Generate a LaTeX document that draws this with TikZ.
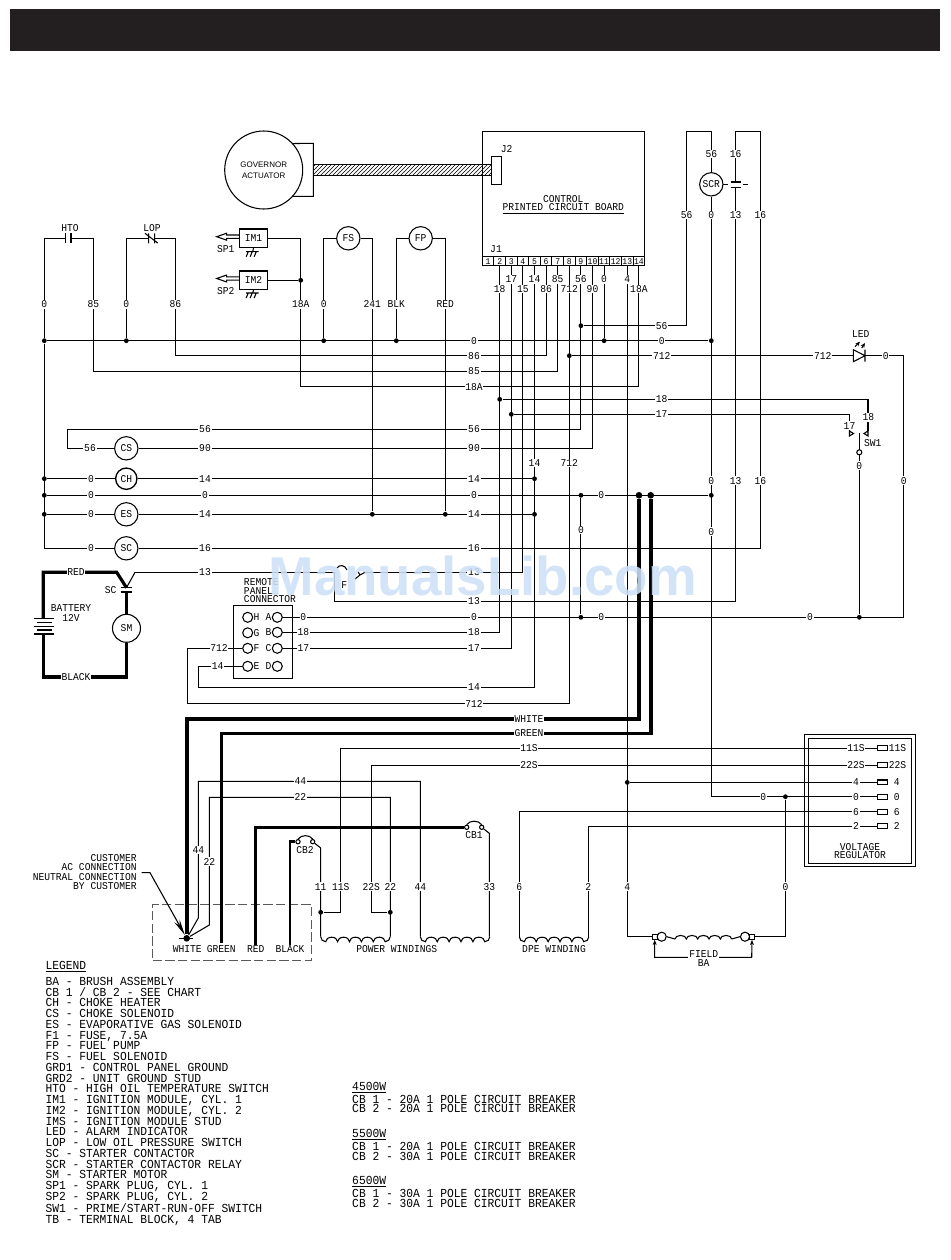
\documentclass[tikz,border=0pt]{standalone}
\usepackage{fontspec}
\setmonofont{Liberation Mono}[FakeStretch=0.92]
\setsansfont{Liberation Sans}
\usetikzlibrary{arrows.meta,patterns}
\newcommand{\wirefont}{\ttfamily\fontsize{7.85}{7.2}\selectfont}
\newcommand{\legendfont}{\ttfamily\fontsize{9.2}{8.07}\selectfont}
\definecolor{inkdark}{HTML}{231F20}
\definecolor{marklib}{HTML}{CDE0F7}
\tikzset{
  heavy/.style={line width=2.4pt},
  tag/.style={fill=white,inner sep=.6pt},
  dev/.style={circle,draw,fill=white,minimum size=17.5pt,inner sep=0pt},
  jn/.style={circle,fill,minimum size=3.6pt,inner sep=0pt},
  jnbig/.style={circle,fill,minimum size=5pt,inner sep=0pt},
  rpt/.style={circle,draw,minimum size=7.5pt,inner sep=0pt},
  cbpt/.style={circle,draw,minimum size=3.2pt,inner sep=0pt},
  pinbox/.style={draw,minimum width=8.7pt,minimum height=6.75pt,inner sep=0pt,font=\ttfamily\fontsize{6.6}{6.6}\selectfont},
  imbox/.style={draw,minimum width=21.3pt,minimum height=14pt,inner sep=0pt},
  tmbox/.style={draw,minimum width=7.8pt,minimum height=3.6pt,inner sep=0pt},
  fqbox/.style={draw,minimum size=3.8pt,inner sep=0pt},
  coil/.pic={\draw (0,0) arc[start angle=180,end angle=90,radius=5] arc[start angle=180,end angle=360,x radius=5.95,y radius=4.5] arc[start angle=180,end angle=360,x radius=5.95,y radius=4.5] arc[start angle=180,end angle=360,x radius=5.95,y radius=4.5] arc[start angle=180,end angle=360,x radius=5.95,y radius=4.5] arc[start angle=180,end angle=360,x radius=5.95,y radius=4.5] arc[start angle=90,end angle=0,radius=5];},
  smallcoil/.pic={\draw (0,0) arc[start angle=180,end angle=360,x radius=5.67,y radius=3.6] arc[start angle=180,end angle=360,x radius=5.67,y radius=3.6] arc[start angle=180,end angle=360,x radius=5.67,y radius=3.6] arc[start angle=180,end angle=360,x radius=5.67,y radius=3.6] arc[start angle=180,end angle=360,x radius=5.67,y radius=3.6];},
  gndmark/.pic={\draw (-6.5,0) -- (6,0) (-4.5,0) -- (-6.5,5) (-.5,0) -- (-2.5,5) (3.5,0) -- (1.5,5);},
  plugmark/.pic={\draw (22.6,-1.7) -- (10,-1.7) -- (10,-3.5) -- (0,0) -- (10,3.5) -- (10,1.7) -- (22.6,1.7);}
}

\begin{document}
\begin{tikzpicture}[x=.75pt,y=-.75pt,line width=.8pt,>={Stealth[length=4pt,width=3pt]}]
\tikzstyle{every node}=[font=\wirefont]
\useasboundingbox (0,0) rectangle (950,1260);
\fill[inkdark] (10,9) rectangle (940,51);

% board and governor
\node[circle,draw,minimum size=58.5pt,inner sep=0pt,align=center,font=\sffamily\fontsize{6}{8}\selectfont] (gov) at (263.7,170) {GOVERNOR\\ACTUATOR};
\coordinate (kgova) at (313.3,143.3);
\coordinate (kgovb) at (313.3,196.3);
\draw (gov.42) -- (kgova) -- (kgovb) -- (gov.-42);
\node[draw,minimum width=121.8pt,minimum height=94pt,inner sep=0pt] (pcb) at (563.5,194) {};
\node[draw,pattern=north east lines,minimum width=134pt,minimum height=8.25pt,inner sep=0pt] (cable) at (402.5,169.8) {};
\node[draw,fill=white,minimum width=7.5pt,minimum height=21pt,inner sep=0pt] (j2box) at (496.7,170.3) {};
\node (j2) at (506.7,149.3) {J2};
\node (pcb1) at (563.3,199) {CONTROL};
\node (pcb2) at (563.3,208.7) {\underline{PRINTED CIRCUIT BOARD}};
\node (j1) at (496,249.3) {J1};
\node[pinbox] (p1) at (488.1,261.2) {1};
\node[pinbox] (p2) at (499.7,261.2) {2};
\node[pinbox] (p3) at (511.3,261.2) {3};
\node[pinbox] (p4) at (522.9,261.2) {4};
\node[pinbox] (p5) at (534.5,261.2) {5};
\node[pinbox] (p6) at (546.1,261.2) {6};
\node[pinbox] (p7) at (557.7,261.2) {7};
\node[pinbox] (p8) at (569.3,261.2) {8};
\node[pinbox] (p9) at (580.9,261.2) {9};
\node[pinbox] (p10) at (592.5,261.2) {10};
\node[pinbox] (p11) at (604.1,261.2) {11};
\node[pinbox] (p12) at (615.7,261.2) {12};
\node[pinbox] (p13) at (627.3,261.2) {13};
\node[pinbox] (p14) at (638.9,261.2) {14};

% top row devices
\coordinate (htoa) at (65.7,238.3);
\coordinate (htob) at (71,238.3);
\coordinate (lopa) at (148.7,238.3);
\coordinate (lopb) at (154.7,238.3);
\draw (65.7,233.3) -- (65.7,243.3) (71,233.3) -- (71,243.3);
\draw (148.7,233.3) -- (148.7,243.3) (154.7,233.3) -- (154.7,243.3) (145,233.3) -- (157.7,243);
\node (hto) at (70,228.3) {HTO};
\node (lop) at (152,228.3) {LOP};
\node[imbox] (im1) at (253.5,238.3) {IM1};
\node[imbox] (im2) at (253.5,280.3) {IM2};
\node (sp1) at (225.7,249) {SP1};
\node (sp2) at (225.7,290.7) {SP2};
\pic at (216.7,236.7) {plugmark};
\pic at (216.7,278.5) {plugmark};
\draw (im1.south) -- (252.7,251.7);
\draw (im2.south) -- (252.7,293);
\pic at (252.7,251.7) {gndmark};
\pic at (252.7,293) {gndmark};
\node[dev] (fs) at (348.3,238.3) {FS};
\node[dev] (fp) at (420.7,238.3) {FP};

% junctions
\node[jn] (j0a) at (44.3,340.7) {};
\node[jn] (j0b) at (126.3,340.7) {};
\node[jn] (j0c) at (323.7,340.7) {};
\node[jn] (j0d) at (396.3,340.7) {};
\node[jn] (j0h) at (604.1,340.7) {};
\node[jn] (j0scr) at (711.3,340.7) {};
\node[jn] (j18a) at (300.7,280.3) {};
\node[jn] (j56) at (580.9,325.7) {};
\node[jn] (j712) at (569.3,355.7) {};
\node[jn] (j18) at (499.7,399.3) {};
\node[jn] (j17) at (511.3,414.3) {};
\node[jn] (j0e) at (44.3,478.7) {};
\node[jn] (j0f) at (44.3,495.3) {};
\node[jn] (j0g) at (44.3,514.3) {};
\node[jn] (j14c) at (534.5,478.7) {};
\node[jn] (j14a) at (372.3,514.3) {};
\node[jn] (j14b) at (445.3,514.3) {};
\node[jn] (j14d) at (534.5,514.3) {};
\node[jn] (j0m) at (580.9,495.3) {};
\node[jnbig] (jw) at (639,495.3) {};
\node[jnbig] (jg) at (650.7,495.3) {};
\node[jn] (j0k) at (711.3,495.3) {};
\node[jn] (j0l) at (580.9,617.3) {};
\node[jn] (j0sw) at (859.3,617.3) {};
\node[jn] (j4) at (627.3,782.4) {};
\node[jn] (j0vr) at (785.4,796.7) {};
\node[jn] (j11) at (320.7,912.3) {};
\node[jn] (j22) at (390.3,912.3) {};

% ladder devices
\node[dev] (cs) at (126.3,448.3) {CS};
\node[dev,minimum size=16pt,line width=1pt] (ch) at (126.3,478.7) {CH};
\node[dev] (es) at (126.3,514.3) {ES};
\node[dev] (sc) at (126.3,548.3) {SC};
\node[dev] (scr) at (711.3,184.3) {SCR};

% remote panel
\node[draw,minimum width=44.2pt,minimum height=54.7pt,inner sep=0pt] (rpbox) at (262.8,641.8) {};
\node[anchor=west,align=left] (rptxt) at (239,590.7) {REMOTE\\[-.6pt]PANEL\\[-.6pt]CONNECTOR};
\node[rpt] (rph) at (247.7,617.3) {};
\node[rpt] (rpg) at (247.7,632.8) {};
\node[rpt] (rpf) at (247.7,648.3) {};
\node[rpt] (rpe) at (247.7,666.3) {};
\node[rpt] (rpa) at (277.3,617.3) {};
\node[rpt] (rpb) at (277.3,632.3) {};
\node[rpt] (rpc) at (277.3,648.3) {};
\node[rpt] (rpd) at (277.3,666.3) {};
\node (th) at (256.5,617.3) {H};
\node (tg) at (256.5,632.8) {G};
\node (tf) at (256.5,648.3) {F};
\node (te) at (256.5,666.3) {E};
\node (ta) at (268.5,617.3) {A};
\node (tb) at (268.5,632.3) {B};
\node (tc) at (268.5,648.3) {C};
\node (td) at (268.5,666.3) {D};

% regulator
\node[draw,minimum width=83pt,minimum height=98.8pt,inner sep=0pt] (vrout) at (860,800.2) {};
\node[draw,minimum width=77.5pt,minimum height=93.8pt,inner sep=0pt] (vrin) at (860,800.8) {};
\node[tmbox] (t11) at (882.5,748.3) {};
\node[tmbox] (t22) at (882.5,765.3) {};
\node[tmbox] (t4) at (882.5,782.4) {};
\node[tmbox] (t0) at (882.5,796.7) {};
\node[tmbox] (t6) at (882.5,811.7) {};
\node[tmbox] (t2) at (882.5,826.3) {};
\node (v11) at (897.5,748.3) {11S};
\node (v22) at (897.5,765.3) {22S};
\node (v4) at (896.7,782) {4};
\node (v0) at (896.7,796.7) {0};
\node (v6) at (896.7,811.7) {6};
\node (v2) at (896.7,826.3) {2};
\node[align=center] (vrtxt) at (860,851) {VOLTAGE\\[-.6pt]REGULATOR};

% corner points
\coordinate (k85) at (93.3,371.3);
\coordinate (k86) at (175.3,355.7);
\coordinate (k18a) at (300.7,386.7);
\coordinate (k56) at (67.3,429.3);
\coordinate (k56b) at (686.7,131.3);
\coordinate (k14) at (198.3,687.3);
\coordinate (k712) at (187.3,703.7);
\coordinate (k16) at (760.3,131.3);
\coordinate (k13b) at (735.7,131.3);
\coordinate (cap1) at (735.7,182);
\coordinate (cap2) at (735.7,187.7);
\coordinate (f13) at (334.3,601.5);
\coordinate (fusea) at (334.3,572.3);
\coordinate (fuseb) at (365,572.3);
\coordinate (fusey) at (360,575);
\coordinate (sca) at (135,572.3);
\coordinate (leda) at (853.3,355.7);
\coordinate (ledb) at (865,355.7);
\coordinate (k0b) at (903.7,617.3);
\coordinate (swt) at (859.3,433.3);
\coordinate (sw17) at (849.5,431);
\coordinate (sw18) at (868,431);

% wires, upper part
\draw (j0a) -- (j0scr);
\draw (htoa) -| (j0a) |- (sc.west);
\draw (htob) -| (k85) -| (p7.south);
\draw (lopa) -| (j0b);
\draw (lopb) -| (k86) -| (p6.south);
\draw (im1.east) -| (k18a) -| (p14.south);
\draw (im2.east) -- (j18a);
\draw (fs.west) -| (j0c);
\draw (fs.east) -| (j14a);
\draw (fp.west) -| (j0d);
\draw (fp.east) -| (j14b);
\draw (p9.south) |- (k56) |- (cs.west);
\draw (j56) -| (k56b) -| (scr.north);
\draw (cs.east) -| (p10.south);
\draw (j0e) -- (ch.west);
\draw (ch.east) -- (j14c);
\draw (j0f) -- (j0k);
\draw (j0g) -- (es.west);
\draw (es.east) -- (j14d);
\draw (p5.south) |- (k14) |- (rpe.west);
\draw (p8.south) |- (k712) |- (rpf.west);
\draw (sc.east) -| (k16) -- (k13b) -- (cap1);
\draw (cap2) |- (f13) -- (fusea);
\draw (sca) -- (fusea);
\draw (fuseb) -| (p4.south);
\draw (p2.south) |- (rpb.east);
\draw (p3.south) |- (rpc.east);
\draw (p11.south) -- (j0h);
\draw (j712) -- (leda);
\draw (ledb) -| (k0b) -- (rpa.east);
\draw (j0m) -- (j0l);
\draw (j0sw) -- (swt);
\draw (j18) -| (sw18);
\draw (j17) -| (sw17);
\draw (scr.south) |- (t0.west);
\draw (p13.south) |- (j4) -- (t4.west);

% small symbols
\draw (730.7,182) -- (741,182) (730.7,187.7) -- (741,187.7);
\draw (723.3,184.3) -- (728,184.3) (743.3,184.3) -- (748.3,184.3);
\draw (853.3,349.7) -- (865,355.7) -- (853.3,361.7) -- cycle (865,349.7) -- (865,361.7);
\draw[-{Stealth[length=3.5pt,width=3pt]}] (855,346.7) -- (860,341.7);
\draw[-{Stealth[length=3.5pt,width=3pt]}] (861.7,348) -- (865,343);
\node (led) at (860.7,334.3) {LED};
\draw (849.5,431) -- (849.5,436) -- (853.5,433.5) -- cycle;
\draw (868,431) -- (868,436) -- (864,433.5) -- cycle;
\node[circle,draw,fill=white,minimum size=3.8pt,inner sep=0pt] (swc) at (859.3,452.3) {};
\node (sw1) at (872.7,442.7) {SW1};
\draw (337,568) .. controls (339,564.5) and (345,564.5) .. (347,570);
\draw (355,579) -- (fusey) -- (fuseb) (fusey) -- (358,571.7);
\node (fuse) at (344.3,585) {F};

% battery
\coordinate (bata) at (43.3,618.7);
\coordinate (batb) at (43.3,634);
\coordinate (scq) at (116.7,572.3);
\coordinate (scv) at (126.5,587.7);
\coordinate (scw) at (126.5,592);
\coordinate (kbk) at (126.5,677);
\node[dev,minimum size=21pt] (sm) at (126.5,628.3) {SM};
\draw (34,618.7) -- (54,618.7) (36.7,622.4) -- (51.7,622.4) (34,626.3) -- (54,626.3) (36.7,630) -- (51.7,630) (34,634) -- (54,634);
\draw (120.7,587.7) -- (131.7,587.7) (120.7,592) -- (131.7,592);
\draw (sca) -- (scv);
\draw[heavy] (bata) |- (scq) -- (scv);
\draw[heavy] (batb) |- (kbk) -- (sm.south);
\draw[heavy] (scw) -- (sm.north);
\node[align=center] (bat) at (71,613.3) {BATTERY\\12V};
\node (scl) at (110.7,590.3) {SC};

% generator side
\coordinate (kwhite) at (186.7,719);
\coordinate (kgreen) at (221.3,733.3);
\coordinate (endgreen) at (221.3,943);
\coordinate (endred) at (255.7,945);
\coordinate (endblack) at (290,945);
\coordinate (k11) at (340.7,912.3);
\coordinate (k22) at (371.3,912.3);
\coordinate (k44a) at (198.3,781.3);
\coordinate (k44b) at (198.3,918);
\coordinate (k22a) at (209.3,797.3);
\coordinate (k22b) at (209.3,925);
\coordinate (coila) at (320.7,936.7);
\coordinate (coilb) at (390.3,936.7);
\coordinate (coilc) at (420.3,936.7);
\coordinate (coild) at (489.3,936.7);
\coordinate (coile) at (519.3,936.7);
\coordinate (coilf) at (588.3,936.7);
\coordinate (cb2k) at (320.7,848);
\coordinate (cb1k) at (489.3,833.3);
\coordinate (lead) at (141.7,872.7);
\coordinate (knee) at (150,872.7);
\node[jnbig] (tip) at (186.7,938.3) {};
\node[draw=black!65,dash pattern=on 7pt off 2.5pt,minimum width=119pt,minimum height=42pt,inner sep=0pt] (acbox) at (232,932.3) {};
\node[cbpt] (cb1l) at (466.7,827.3) {};
\node[cbpt] (cb1r) at (481.7,827.3) {};
\node[cbpt] (cb2l) at (298,841.7) {};
\node[cbpt] (cb2r) at (312.7,841.7) {};
\draw (cb1l.north) .. controls (470,820) and (478,820) .. (cb1r.north);
\draw (cb2l.north) .. controls (301.5,834.5) and (309.5,834.5) .. (cb2r.north);
\draw[heavy,line width=2.7pt] (jw) |- (kwhite) -- (tip);
\draw[heavy,line width=2.7pt] (jg) |- (kgreen) -- (endgreen);
\draw[heavy] (endred) |- (cb1l.west);
\draw[heavy,line width=2pt] (endblack) |- (cb2l.west);
\draw (t11.west) -| (k11) -- (j11);
\draw (t22.west) -| (k22) -- (j22);
\draw (tip) -- (k44b) -- (k44a) -| (coilc);
\draw (tip) -- (k22b) -- (k22a) -| (coilb);
\draw (cb2r) -- (cb2k) -- (coila);
\draw (cb1r) -- (cb1k) -- (coild);
\draw (t6.west) -| (coile);
\draw (t2.west) -| (coilf);
\draw (179,938.3) -- (193,938.3);
\draw[-{Stealth[length=12pt,width=4.5pt]}] (lead) -- (knee) -- (tip);
\pic at (coila) {coil};
\pic at (coilc) {coil};
\pic at (coile) {coil};

% field
\node[fqbox] (fq1) at (654.7,936.7) {};
\node[fqbox] (fq2) at (752,936.7) {};
\node[circle,draw,minimum size=6.8pt,inner sep=0pt] (fc1) at (661.7,936.7) {};
\node[circle,draw,minimum size=6.8pt,inner sep=0pt] (fc2) at (745,936.7) {};
\coordinate (fa) at (675,939);
\coordinate (fb) at (731.7,939);
\coordinate (fk) at (751.7,957.3);
\pic at (fa) {smallcoil};
\draw (fc1.east) -- (fa);
\draw (fb) -- (fc2.west);
\draw (p13.south) |- (fq1.west);
\draw (j0vr) |- (fq2.east);
\draw[<->] (fq1.south) |- (fk) -- (fq2.south);
\node[tag] (fld) at (703.7,954) {FIELD};
\node[tag] (fba) at (703.7,962.7) {BA};

% wire labels
\node[tag] (r0a) at (44.3,304.3) {0};
\node[tag] (r85) at (93.3,304.3) {85};
\node[tag] (r0b) at (126.3,304.3) {0};
\node[tag] (r86) at (175.3,304.3) {86};
\node[tag] (r18a) at (300.7,304.3) {18A};
\node[tag] (r0c) at (323.7,304.3) {0};
\node[tag] (r241) at (372.3,304.3) {241};
\node[tag] (rblk) at (396.3,304.3) {BLK};
\node[tag] (rred) at (445.3,304.3) {RED};
\node[tag] (a0) at (474,340.7) {0};
\node[tag] (a86) at (474,355.7) {86};
\node[tag] (a85) at (474,371.3) {85};
\node[tag] (a18a) at (474,386.7) {18A};
\node[tag] (a56) at (474,429.3) {56};
\node[tag] (a90) at (474,448.3) {90};
\node[tag] (a14c) at (474,478.7) {14};
\node[tag] (a0f) at (474,495.3) {0};
\node[tag] (a14e) at (474,514.3) {14};
\node[tag] (a16) at (474,548.3) {16};
\node[tag] (a13) at (474,572.3) {13};
\node[tag] (a13b) at (474,601.5) {13};
\node[tag] (a0l) at (474,617.3) {0};
\node[tag] (a18) at (474,632.3) {18};
\node[tag] (a17) at (474,648.3) {17};
\node[tag] (a14k) at (474,687.3) {14};
\node[tag] (a712) at (474,703.7) {712};
\node[tag] (b56) at (205,429.3) {56};
\node[tag] (b90) at (205,448.3) {90};
\node[tag] (b14c) at (205,478.7) {14};
\node[tag] (b0f) at (205,495.3) {0};
\node[tag] (b14e) at (205,514.3) {14};
\node[tag] (b16) at (205,548.3) {16};
\node[tag] (b13) at (205,572.3) {13};
\node[tag] (c56) at (90,448.3) {56};
\node[tag] (c0e) at (91,478.7) {0};
\node[tag] (c0f) at (91,495.3) {0};
\node[tag] (c0g) at (91,514.3) {0};
\node[tag] (c0s) at (91,548.3) {0};
\node[tag] (d17) at (511.3,279.3) {17};
\node[tag] (d14) at (534.5,279.3) {14};
\node[tag] (d85) at (557.7,279.3) {85};
\node[tag] (d56) at (580.9,279.3) {56};
\node[tag] (d0) at (604.1,279.3) {0};
\node[tag] (d4) at (627.3,279.3) {4};
\node[tag] (d18) at (499.7,289) {18};
\node[tag] (d15) at (522.9,289) {15};
\node[tag] (d86) at (546.1,289) {86};
\node[tag] (d712) at (569.3,289) {712};
\node[tag] (d90) at (592.5,289) {90};
\node[tag] (d18a) at (638.9,289) {18A};
\node[tag] (e56) at (661.7,325.7) {56};
\node[tag] (e0) at (661.7,340.7) {0};
\node[tag] (e712) at (661.7,355.7) {712};
\node[tag] (e18) at (661.7,399.3) {18};
\node[tag] (e17) at (661.7,414.3) {17};
\node[tag] (f712) at (822.7,355.7) {712};
\node[tag] (f0) at (885.7,355.7) {0};
\node[tag] (g56a) at (711.3,154) {56};
\node[tag] (g16a) at (735.7,154) {16};
\node[tag] (g56) at (686.7,215) {56};
\node[tag] (g0) at (711.3,215) {0};
\node[tag] (g13) at (735.7,215) {13};
\node[tag] (g16) at (760.3,215) {16};
\node[tag] (h14) at (534.5,463) {14};
\node[tag] (h712) at (569.3,463) {712};
\node[tag] (i0m) at (601.3,495.3) {0};
\node[tag] (i0k) at (711.3,480.7) {0};
\node[tag] (i13) at (735.7,480.7) {13};
\node[tag] (i16) at (760.3,480.7) {16};
\node[tag] (i0r) at (903.7,480.7) {0};
\node[tag] (i0v) at (711.3,531.7) {0};
\node[tag] (i0w) at (580.9,530) {0};
\node[tag] (i0l) at (601.3,617.3) {0};
\node[tag] (i0z) at (810,617.3) {0};
\node[tag] (s18) at (868.3,417.3) {18};
\node[tag] (s17) at (849.5,425.7) {17};
\node[tag] (s0) at (859.3,465.7) {0};
\node[tag] (m0) at (303.3,617.3) {0};
\node[tag] (m18) at (303.3,632.3) {18};
\node[tag] (m17) at (303.3,648.3) {17};
\node[tag] (m712) at (219,648.3) {712};
\node[tag] (m14) at (217.7,666.3) {14};
\node[tag] (nred) at (76,572.3) {RED};
\node[tag] (nblk) at (76,677) {BLACK};
\node[tag] (nwhite) at (529,719) {WHITE};
\node[tag] (ngreen) at (529,733.3) {GREEN};
\node[tag] (n11s) at (529,748.3) {11S};
\node[tag] (n22s) at (529,765.3) {22S};
\node[tag] (o11s) at (856,748.3) {11S};
\node[tag] (o22s) at (856,765.3) {22S};
\node[tag] (o4) at (856,782.4) {4};
\node[tag] (o0) at (856,796.7) {0};
\node[tag] (o6) at (856,811.7) {6};
\node[tag] (o2) at (856,826.3) {2};
\node[tag] (o0b) at (763.3,796.7) {0};
\node[tag] (q44) at (300.3,781.3) {44};
\node[tag] (q22) at (300.3,797.3) {22};
\node[tag] (q44b) at (198.3,850) {44};
\node[tag] (q22b) at (209.3,861.7) {22};
\node[tag] (w11) at (320.7,886.7) {11};
\node[tag] (w11s) at (340.7,886.7) {11S};
\node[tag] (w22s) at (371.3,886.7) {22S};
\node[tag] (w22) at (390.3,886.7) {22};
\node[tag] (w44) at (420.3,886.7) {44};
\node[tag] (w33) at (489.3,886.7) {33};
\node[tag] (w6) at (519.3,886.7) {6};
\node[tag] (w2) at (588.3,886.7) {2};
\node[tag] (w4) at (627.3,886.7) {4};
\node[tag] (w0) at (785.4,886.7) {0};

% texts
\node (cb1t) at (474,835.5) {CB1};
\node (cb2t) at (305,850.3) {CB2};
\node[anchor=north east,align=right,inner sep=0pt] (cust) at (137.3,853.5) {CUSTOMER\\AC CONNECTION\\NEUTRAL CONNECTION\\BY CUSTOMER};
\node (twhite) at (187.3,949.3) {WHITE};
\node (tgreen) at (221.3,949.3) {GREEN};
\node (tred) at (255.7,949.3) {RED};
\node (tblack) at (290,949.3) {BLACK};
\node (tpow) at (396.7,949.3) {POWER WINDINGS};
\node (tdpe) at (554,949.3) {DPE WINDING};
\node[anchor=west,inner sep=0pt,font=\legendfont] (lgdh) at (45,967) {\underline{LEGEND}};
\node[anchor=north west,align=left,inner sep=0pt,font=\legendfont] (lgd) at (45,976.5) {BA - BRUSH ASSEMBLY\\CB 1 / CB 2 - SEE CHART\\CH - CHOKE HEATER\\CS - CHOKE SOLENOID\\ES - EVAPORATIVE GAS SOLENOID\\F1 - FUSE, 7.5A\\FP - FUEL PUMP\\FS - FUEL SOLENOID\\GRD1 - CONTROL PANEL GROUND\\GRD2 - UNIT GROUND STUD\\HTO - HIGH OIL TEMPERATURE SWITCH\\IM1 - IGNITION MODULE, CYL. 1\\IM2 - IGNITION MODULE, CYL. 2\\IMS - IGNITION MODULE STUD\\LED - ALARM INDICATOR\\LOP - LOW OIL PRESSURE SWITCH\\SC - STARTER CONTACTOR\\SCR - STARTER CONTACTOR RELAY\\SM - STARTER MOTOR\\SP1 - SPARK PLUG, CYL. 1\\SP2 - SPARK PLUG, CYL. 2\\SW1 - PRIME/START-RUN-OFF SWITCH\\TB - TERMINAL BLOCK, 4 TAB};
\node[anchor=west,inner sep=0pt,font=\legendfont] (w45) at (351.7,1087.3) {\underline{4500W}};
\node[anchor=west,inner sep=0pt,font=\legendfont] (c45a) at (351.7,1099) {CB 1 - 20A 1 POLE CIRCUIT BREAKER};
\node[anchor=west,inner sep=0pt,font=\legendfont] (c45b) at (351.7,1108.7) {CB 2 - 20A 1 POLE CIRCUIT BREAKER};
\node[anchor=west,inner sep=0pt,font=\legendfont] (w55) at (351.7,1134.3) {\underline{5500W}};
\node[anchor=west,inner sep=0pt,font=\legendfont] (c55a) at (351.7,1146) {CB 1 - 20A 1 POLE CIRCUIT BREAKER};
\node[anchor=west,inner sep=0pt,font=\legendfont] (c55b) at (351.7,1156) {CB 2 - 30A 1 POLE CIRCUIT BREAKER};
\node[anchor=west,inner sep=0pt,font=\legendfont] (w65) at (351.7,1182) {\underline{6500W}};
\node[anchor=west,inner sep=0pt,font=\legendfont] (c65a) at (351.7,1193.3) {CB 1 - 30A 1 POLE CIRCUIT BREAKER};
\node[anchor=west,inner sep=0pt,font=\legendfont] (c65b) at (351.7,1203.3) {CB 2 - 30A 1 POLE CIRCUIT BREAKER};

\node[anchor=base west,inner sep=0pt,text=marklib,opacity=.88,font=\sffamily\bfseries\fontsize{41}{41}\selectfont] (mark) at (268,595) {ManualsLib.com};
\end{tikzpicture}
\end{document}
